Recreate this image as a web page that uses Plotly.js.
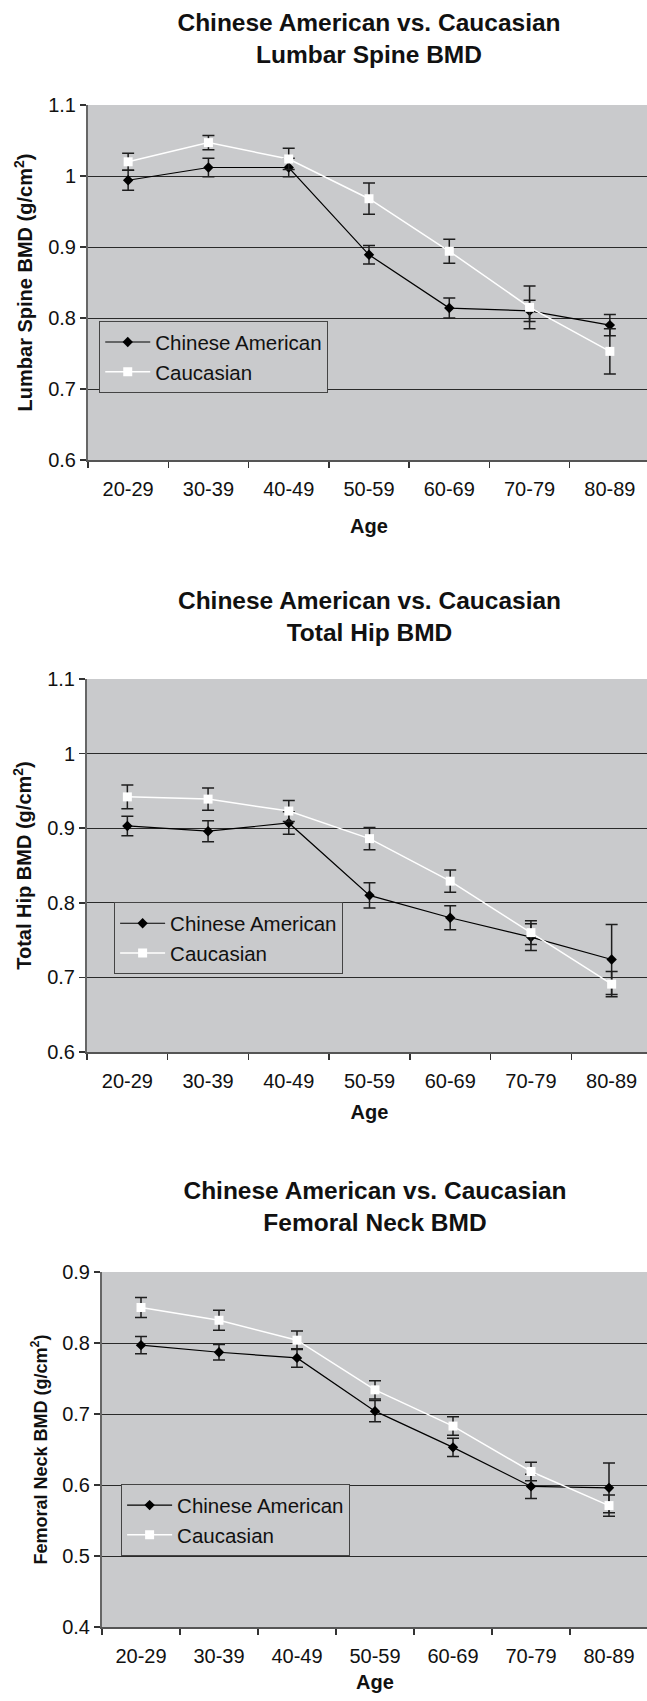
<!DOCTYPE html>
<html><head><meta charset="utf-8">
<script src="https://cdn.plot.ly/plotly-3.0.1.min.js"></script>
<style>
html,body{margin:0;padding:0;background:#fff;overflow:hidden;width:647px;height:1701px;}
#wrap{position:relative;width:647px;height:1701px;overflow:hidden;}
.chart{position:absolute;left:0;}
</style></head><body>
<div id="wrap">
<div id="c1" class="chart" style="top:0px"></div>
<div id="c2" class="chart" style="top:567px"></div>
<div id="c3" class="chart" style="top:1134px"></div>
</div>
<script>
// ---- data ----
const ageGroups = ['20-29','30-39','40-49','50-59','60-69','70-79','80-89'];
const seriesNames = ['Chinese American','Caucasian'];

const lumbarChinese      = [0.994, 1.012, 1.012, 0.889, 0.814, 0.810, 0.790];
const lumbarChineseErr   = [0.014, 0.013, 0.013, 0.013, 0.014, 0.015, 0.015];
const lumbarCaucasian    = [1.020, 1.047, 1.024, 0.968, 0.894, 0.815, 0.753];
const lumbarCaucasianErr = [0.012, 0.010, 0.015, 0.022, 0.017, 0.030, 0.032];

const hipChinese      = [0.903, 0.896, 0.907, 0.810, 0.780, 0.754, 0.724];
const hipChineseErr   = [0.013, 0.014, 0.015, 0.017, 0.016, 0.018, 0.047];
const hipCaucasian    = [0.942, 0.939, 0.923, 0.886, 0.829, 0.760, 0.691];
const hipCaucasianErr = [0.016, 0.015, 0.014, 0.015, 0.015, 0.016, 0.017];

const neckChinese      = [0.797, 0.787, 0.779, 0.704, 0.653, 0.598, 0.596];
const neckChineseErr   = [0.012, 0.011, 0.013, 0.015, 0.013, 0.017, 0.035];
const neckCaucasian    = [0.850, 0.832, 0.804, 0.734, 0.683, 0.619, 0.571];
const neckCaucasianErr = [0.014, 0.014, 0.013, 0.013, 0.013, 0.013, 0.015];

const mainTitle = 'Chinese American vs. Caucasian';
const subTitles = ['Lumbar Spine BMD', 'Total Hip BMD', 'Femoral Neck BMD'];
const yTitles = ['Lumbar Spine BMD (g/cm<sup>2</sup>)', 'Total Hip BMD (g/cm<sup>2</sup>)', 'Femoral Neck BMD (g/cm<sup>2</sup>)'];
const xTitle = 'Age';

// ---- styling ----
const FONT = 'Liberation Sans, Arial, Helvetica, sans-serif';
const PLOT_BG = '#c9cacc';

function makeChart(id, cfg) {
  const traces = [
    {
      x: ageGroups, y: cfg.chn, name: seriesNames[0], type: 'scatter', mode: 'lines+markers',
      line: {color: '#000', width: 1.2},
      marker: {symbol: 'diamond', size: 8, color: '#000'},
      error_y: {type: 'data', array: cfg.chnErr, visible: true, color: '#1e1e1e', thickness: 1.5, width: 6}
    },
    {
      x: ageGroups, y: cfg.cau, name: seriesNames[1], type: 'scatter', mode: 'lines+markers',
      line: {color: '#fff', width: 1.5},
      marker: {symbol: 'square', size: 9, color: '#fff'},
      error_y: {type: 'data', array: cfg.cauErr, visible: true, color: '#1e1e1e', thickness: 1.5, width: 6}
    }
  ];
  const layout = {
    width: cfg.width, height: 567,
    margin: {l: cfg.l, r: 0, t: cfg.t, b: cfg.b, pad: 0},
    paper_bgcolor: '#fff', plot_bgcolor: PLOT_BG,
    font: {family: FONT, color: '#111', size: 20},
    title: {
      text: mainTitle + '<br>' + cfg.sub,
      font: {family: FONT, size: 24.5, weight: 'bold', color: '#111'},
      xref: 'paper', x: 0.5, xanchor: 'center',
      yref: 'container', y: 1 - cfg.titleTop / 567, yanchor: 'top'
    },
    showlegend: true,
    legend: {
      x: cfg.legX, y: cfg.legY, xanchor: 'left', yanchor: 'top',
      bgcolor: PLOT_BG, bordercolor: '#444', borderwidth: 1,
      itemwidth: 45,
      font: {family: FONT, size: 20.5, color: '#111'}
    },
    xaxis: {
      type: 'category', range: [-0.5, 6.5], tickson: 'boundaries',
      ticks: 'outside', ticklen: 6, tickwidth: 1.5, tickcolor: '#333',
      ticklabelstandoff: 10,
      showgrid: false, zeroline: false, showline: true, linecolor: '#555', linewidth: 1.5,
      tickfont: {family: FONT, size: 20, color: '#111'},
      title: {text: xTitle, font: {family: FONT, size: 20, weight: 'bold', color: '#111'}, standoff: cfg.xStand},
      fixedrange: true
    },
    yaxis: {
      range: cfg.range, tick0: cfg.range[0], dtick: 0.1,
      ticks: 'outside', ticklen: 6, tickwidth: 1.5, tickcolor: '#333',
      showgrid: true, gridcolor: '#2a2a2a', gridwidth: 1,
      zeroline: false, showline: true, linecolor: '#666', linewidth: 2,
      tickfont: {family: FONT, size: 20, color: '#111'},
      title: {text: cfg.yTitle, font: {family: FONT, size: cfg.yTitleSize, weight: 'bold', color: '#111'}, standoff: cfg.yStand},
      fixedrange: true
    }
  };
  Plotly.newPlot(id, traces, layout, {staticPlot: true, displayModeBar: false});
}

makeChart('c1', {
  chn: lumbarChinese, chnErr: lumbarChineseErr, cau: lumbarCaucasian, cauErr: lumbarCaucasianErr,
  sub: subTitles[0], yTitle: yTitles[0], yTitleSize: 20,
  width: 650, l: 88, t: 105, b: 107, range: [0.6, 1.1],
  titleTop: 31, legX: 0.02, legY: 0.391, xStand: 20, yStand: 10
});
makeChart('c2', {
  chn: hipChinese, chnErr: hipChineseErr, cau: hipCaucasian, cauErr: hipCaucasianErr,
  sub: subTitles[1], yTitle: yTitles[1], yTitleSize: 20,
  width: 652, l: 87, t: 112, b: 82, range: [0.6, 1.1],
  titleTop: 42, legX: 0.048, legY: 0.401, xStand: 14, yStand: 10
});
makeChart('c3', {
  chn: neckChinese, chnErr: neckChineseErr, cau: neckCaucasian, cauErr: neckCaucasianErr,
  sub: subTitles[2], yTitle: yTitles[2], yTitleSize: 18,
  width: 648, l: 102, t: 138, b: 74, range: [0.4, 0.9],
  titleTop: 65, legX: 0.035, legY: 0.402, xStand: 9, yStand: 10
});
</script>
</body></html>
